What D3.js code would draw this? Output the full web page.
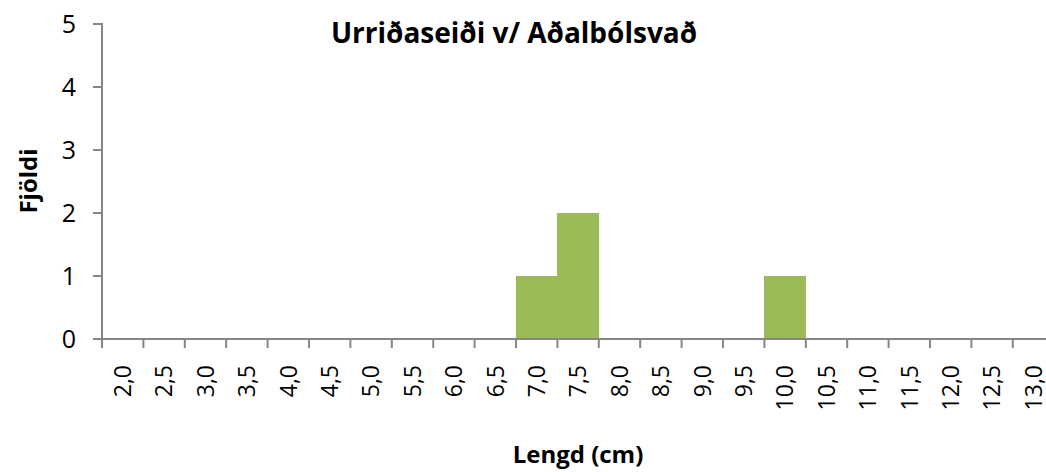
<!DOCTYPE html>
<meta charset="utf-8" />
<title>Urriðaseiði v/ Aðalbólsvað</title>
<style>
  body { margin: 0; background: #fff; }
  text { font-family: "Open Sans", sans-serif; fill: #000; }
  .bar { fill: #9bbb59; shape-rendering: crispEdges; }
  .axis-line { stroke: #868686; stroke-width: 2; fill: none; }
</style>
<body>
<script src="https://d3js.org/d3.v7.min.js"></script>
<script>
  // length classes (cm) and counts
  var lengths = ["2,0", "2,5", "3,0", "3,5", "4,0", "4,5", "5,0", "5,5", "6,0", "6,5",
    "7,0", "7,5", "8,0", "8,5", "9,0", "9,5", "10,0", "10,5", "11,0", "11,5",
    "12,0", "12,5", "13,0"];
  var counts = [0, 0, 0, 0, 0, 0, 0, 0, 0, 0, 1, 2, 0, 0, 0, 0, 1, 0, 0, 0, 0, 0, 0];
  var yTicks = [0, 1, 2, 3, 4, 5];

  var width = 1046, height = 472;
  var plotLeft = 102, plotBottom = 339, plotTop = 24;
  var step = 41.4;

  var svg = d3.select("body").append("svg")
    .attr("width", width)
    .attr("height", height);

  var x = d3.scaleBand()
    .domain(lengths)
    .range([plotLeft, plotLeft + step * lengths.length])
    .padding(0);

  var y = d3.scaleLinear()
    .domain([0, 5])
    .range([plotBottom, plotTop]);

  // bars
  svg.append("g")
    .selectAll("rect")
    .data(lengths.map(function(d, i) { return { name: d, value: counts[i] }; }))
    .enter()
    .append("rect")
    .attr("class", "bar")
    .attr("x", function(d) { return x(d.name); })
    .attr("width", x.bandwidth() + 0.5)
    .attr("y", function(d) { return y(d.value); })
    .attr("height", function(d) { return y(0) - y(d.value); });

  // y axis
  var yAxis = svg.append("g");
  yAxis.append("line").attr("class", "axis-line")
    .attr("x1", plotLeft).attr("x2", plotLeft)
    .attr("y1", y(5) - 1).attr("y2", y(0));
  yAxis.selectAll(".tick").data(yTicks).enter().append("line")
    .attr("class", "axis-line")
    .attr("x1", plotLeft - 9).attr("x2", plotLeft)
    .attr("y1", function(d) { return y(d); })
    .attr("y2", function(d) { return y(d); });
  yAxis.selectAll("text").data(yTicks).enter().append("text")
    .attr("x", 76)
    .attr("y", function(d) { return y(d); })
    .attr("dy", "0.36em")
    .attr("text-anchor", "end")
    .style("font-size", "25px")
    .text(function(d) { return d; });

  // x axis
  var xAxis = svg.append("g");
  xAxis.append("line").attr("class", "axis-line")
    .attr("x1", plotLeft).attr("x2", width)
    .attr("y1", y(0)).attr("y2", y(0));
  xAxis.selectAll(".tick").data(lengths).enter().append("line")
    .attr("class", "axis-line")
    .attr("x1", function(d) { return x(d); })
    .attr("x2", function(d) { return x(d); })
    .attr("y1", y(0)).attr("y2", y(0) + 9);
  xAxis.selectAll("text").data(lengths).enter().append("text")
    .attr("transform", function(d) {
      return "translate(" + (x(d) + x.bandwidth() / 2) + "," + 365 + ") rotate(-90)";
    })
    .attr("dy", "0.36em")
    .attr("text-anchor", "end")
    .style("font-size", "23px")
    .text(function(d) { return d; });

  // titles
  svg.append("text")
    .attr("x", 514).attr("y", 43)
    .attr("text-anchor", "middle")
    .style("font-size", "28px")
    .style("font-weight", "bold")
    .text("Urriðaseiði v/ Aðalbólsvað");

  svg.append("text")
    .attr("x", 578).attr("y", 463)
    .attr("text-anchor", "middle")
    .style("font-size", "24px")
    .style("font-weight", "bold")
    .text("Lengd (cm)");

  svg.append("text")
    .attr("transform", "translate(37,181) rotate(-90)")
    .attr("text-anchor", "middle")
    .style("font-size", "24px")
    .style("font-weight", "bold")
    .text("Fjöldi");
</script>
</body>
